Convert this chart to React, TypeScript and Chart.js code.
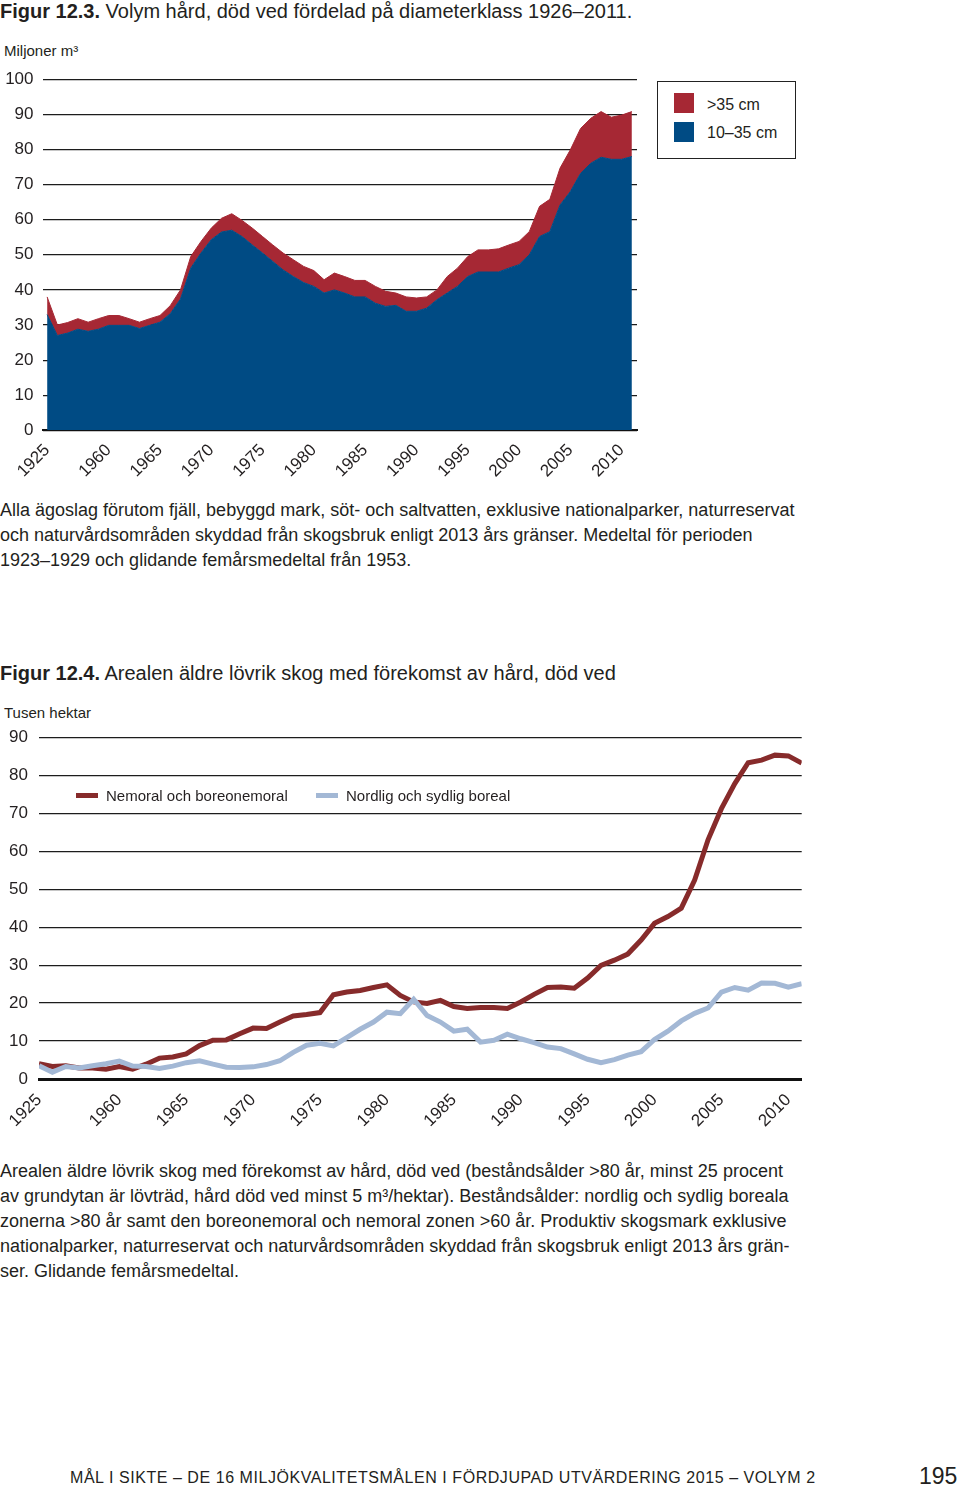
import React, { useEffect, useRef } from 'react';
import { Chart, registerables } from 'chart.js';

Chart.register(...registerables);

// ---------- DATA ----------
const years = [
  '1925',
  '1955', '1956', '1957', '1958', '1959', '1960', '1961', '1962', '1963', '1964',
  '1965', '1966', '1967', '1968', '1969', '1970', '1971', '1972', '1973', '1974',
  '1975', '1976', '1977', '1978', '1979', '1980', '1981', '1982', '1983', '1984',
  '1985', '1986', '1987', '1988', '1989', '1990', '1991', '1992', '1993', '1994',
  '1995', '1996', '1997', '1998', '1999', '2000', '2001', '2002', '2003', '2004',
  '2005', '2006', '2007', '2008', '2009', '2010', '2011',
];

const tickYears = ['1925', '1960', '1965', '1970', '1975', '1980', '1985', '1990', '1995', '2000', '2005', '2010'];

// Figur 12.3 – volym hård, död ved (miljoner m3)
const diam10to35 = [
  33, 27, 27.7, 28.8, 28.2, 28.8, 29.9, 29.9, 29.9, 29, 29.9,
  30.8, 33.2, 37.4, 46.2, 50.5, 54.3, 56.5, 57, 55.2, 52.8,
  50.5, 48.1, 45.7, 43.8, 42.1, 41, 39.1, 40, 39.1, 38,
  38, 36.2, 35.3, 35.6, 33.9, 33.9, 34.8, 37.2, 39.1, 41,
  43.8, 45.1, 45.1, 45.1, 46.2, 47.2, 50, 55.2, 56.6, 64.2,
  68, 73.2, 76.1, 77.8, 77.2, 77.2, 78,
];
const diamOver35 = [
  5, 3, 3, 3, 2.6, 3, 2.8, 2.8, 1.9, 1.8, 1.9,
  1.9, 2.3, 2.6, 3.3, 3.3, 3.3, 3.9, 4.7, 4.6, 4.8,
  4.7, 4.7, 4.8, 4.8, 4.6, 4.5, 3.8, 4.8, 4.7, 4.7,
  4.7, 4.8, 4.3, 3.5, 4.1, 3.8, 3.2, 2.8, 4.7, 5.2,
  5.7, 6.3, 6.3, 6.6, 6.6, 6.6, 6.6, 8.6, 9.2, 10.5,
  11.9, 12.8, 12.8, 13, 12, 12.6, 12.8,
];

// Figur 12.4 – areal (tusen hektar)
const nemoralBoreonemoral = [
  4.0, 3.3, 3.5, 2.9, 2.9, 2.6, 3.3, 2.6, 3.9, 5.5,
  5.8, 6.6, 8.8, 10.2, 10.3, 11.9, 13.4, 13.3, 15.0, 16.6,
  17.0, 17.5, 22.2, 22.9, 23.3, 24.1, 24.8, 22.0, 20.3, 19.9,
  20.7, 19.1, 18.6, 18.8, 18.8, 18.6, 20.3, 22.3, 24.1, 24.2,
  23.9, 26.6, 29.9, 31.3, 32.9, 36.6, 41.0, 42.8, 45.0, 52.4,
  63.0, 71.2, 77.8, 83.3, 84.0, 85.3, 85.1, 83.2,
];
const nordligSydligBoreal = [
  3.5, 1.8, 3.3, 2.9, 3.5, 4.0, 4.7, 3.4, 3.3, 2.8,
  3.4, 4.3, 4.8, 3.9, 3.1, 3.0, 3.2, 3.8, 4.8, 7.0,
  8.9, 9.4, 8.7, 10.9, 13.1, 15.0, 17.6, 17.2, 21.0, 16.7,
  15.0, 12.6, 13.1, 9.7, 10.2, 11.8, 10.6, 9.6, 8.4, 8.0,
  6.6, 5.2, 4.3, 5.1, 6.3, 7.2, 10.4, 12.6, 15.3, 17.3,
  18.7, 22.9, 24.1, 23.4, 25.3, 25.2, 24.2, 25.1,
];

const legendTop = ['>35 cm', '10–35 cm'];
const legendBottom = ['Nemoral och boreonemoral', 'Nordlig och sydlig boreal'];

// ---------- STYLE ----------
const FONT = '"Liberation Sans", Arial, Helvetica, sans-serif';
const INK = '#231f20';
const RED = '#a62834';
const BLUE = '#004b84';
const LINE_RED = '#872b2b';
const LINE_BLUE = '#a3b8d5';
const GRID = '#1c1c1c';

const pts = (values: number[]) => values.map((v, i) => ({ x: i, y: v }));

function xScale(min: number, max: number, height: number, borderWidth: number, padding: number) {
  return {
    type: 'linear' as const,
    min,
    max,
    afterBuildTicks: (scale: any) => {
      scale.ticks = tickYears.map((t) => ({ value: years.indexOf(t) }));
    },
    afterFit: (scale: any) => {
      scale.height = height;
    },
    grid: { display: false, drawTicks: false },
    border: { display: true, color: '#111', width: borderWidth },
    ticks: {
      autoSkip: false,
      maxRotation: 45,
      minRotation: 45,
      padding,
      color: INK,
      font: { family: FONT, size: 17 },
      callback: (v: any) => years[v] ?? '',
    },
  };
}

function yScale(max: number, width: number, padding: number, stacked: boolean) {
  return {
    type: 'linear' as const,
    min: 0,
    max,
    stacked,
    afterFit: (scale: any) => {
      scale.width = width;
    },
    grid: { color: GRID, lineWidth: 1.2, drawTicks: false },
    border: { display: false },
    ticks: {
      stepSize: 10,
      padding,
      color: INK,
      font: { family: FONT, size: 17 },
    },
  };
}

function TopChart() {
  const ref = useRef<HTMLCanvasElement>(null);
  useEffect(() => {
    const chart = new Chart(ref.current!, {
      type: 'line',
      data: {
        datasets: [
          {
            label: legendTop[1],
            data: pts(diam10to35),
            fill: 'origin',
            backgroundColor: BLUE,
            borderColor: BLUE,
            borderWidth: 1,
            pointRadius: 0,
            tension: 0,
          },
          {
            label: legendTop[0],
            data: pts(diamOver35),
            fill: '-1',
            backgroundColor: RED,
            borderColor: RED,
            borderWidth: 1,
            pointRadius: 0,
            tension: 0,
          },
        ],
      },
      options: {
        animation: false,
        responsive: false,
        maintainAspectRatio: false,
        layout: { padding: { top: 21.3, right: 13, left: 0, bottom: 0 } },
        plugins: { legend: { display: false }, tooltip: { enabled: false } },
        scales: {
          x: xScale(-0.45, 57.5, 59.7, 2, 10),
          y: yScale(100, 42.5, 9, true),
        },
      },
    });
    return () => chart.destroy();
  }, []);
  return (
    <canvas
      ref={ref}
      width={650}
      height={432}
      style={{ position: 'absolute', left: 0, top: 58, width: 650, height: 432 }}
    />
  );
}

function BottomChart() {
  const ref = useRef<HTMLCanvasElement>(null);
  useEffect(() => {
    const chart = new Chart(ref.current!, {
      type: 'line',
      data: {
        datasets: [
          {
            label: legendBottom[0],
            data: pts(nemoralBoreonemoral),
            borderColor: LINE_RED,
            borderWidth: 5,
            pointRadius: 0,
            tension: 0,
            fill: false,
            order: 1,
          },
          {
            label: legendBottom[1],
            data: pts(nordligSydligBoreal),
            borderColor: LINE_BLUE,
            borderWidth: 5,
            pointRadius: 0,
            tension: 0,
            fill: false,
            order: 0,
          },
        ],
      },
      options: {
        animation: false,
        responsive: false,
        maintainAspectRatio: false,
        layout: { padding: { top: 22.3, right: 18.3, left: 0, bottom: 0 } },
        plugins: { legend: { display: false }, tooltip: { enabled: false } },
        scales: {
          x: xScale(0, 57, 56, 3, 11),
          y: yScale(90, 39, 11, false),
        },
      },
    });
    return () => chart.destroy();
  }, []);
  return (
    <canvas
      ref={ref}
      width={820}
      height={420}
      style={{ position: 'absolute', left: 0, top: 715, width: 820, height: 420 }}
    />
  );
}

function Txt(props: { x: number; y: number; size: number; children: any; bold?: boolean; style?: any }) {
  const { x, y, size, children, bold, style } = props;
  return (
    <div
      style={{
        position: 'absolute',
        left: x,
        top: y - size * 0.62,
        fontSize: size,
        lineHeight: `${size * 1.2}px`,
        fontWeight: bold ? 700 : 400,
        whiteSpace: 'pre',
        color: INK,
        fontFamily: FONT,
        ...style,
      }}
    >
      {children}
    </div>
  );
}

function Para(props: { x: number; firstCenter: number; size: number; lh: number; lines: string[] }) {
  const { x, firstCenter, size, lh, lines } = props;
  const half = (lh - 1.117 * size) / 2;
  const top = firstCenter - (half + 0.905 * size - 0.3 * size);
  return (
    <div
      style={{
        position: 'absolute',
        left: x,
        top,
        fontSize: size,
        lineHeight: `${lh}px`,
        whiteSpace: 'pre',
        color: INK,
        fontFamily: FONT,
      }}
    >
      {lines.map((l, i) => (
        <div key={i}>{l}</div>
      ))}
    </div>
  );
}

export default function App() {
  return (
    <div
      style={{
        position: 'absolute',
        left: 0,
        top: 0,
        width: 960,
        height: 1486,
        overflow: 'hidden',
        background: '#fff',
        fontFamily: FONT,
        color: INK,
      }}
    >
      <Txt x={0} y={11} size={20}>
        <b>Figur 12.3.</b> Volym hård, död ved fördelad på diameterklass 1926–2011.
      </Txt>
      <Txt x={4} y={51} size={15}>
        Miljoner m³
      </Txt>
      <TopChart />
      {/* top legend */}
      <div
        style={{
          position: 'absolute',
          left: 657,
          top: 81,
          width: 137,
          height: 76,
          border: '1.5px solid #222',
        }}
      />
      <div style={{ position: 'absolute', left: 674, top: 93, width: 20, height: 20, background: RED }} />
      <div style={{ position: 'absolute', left: 674, top: 122, width: 20, height: 20, background: BLUE }} />
      <Txt x={707} y={105} size={16}>
        {legendTop[0]}
      </Txt>
      <Txt x={707} y={133} size={16}>
        {legendTop[1]}
      </Txt>

      <Para
        x={0}
        firstCenter={511}
        size={18}
        lh={25}
        lines={[
          'Alla ägoslag förutom fjäll, bebyggd mark, söt- och saltvatten, exklusive nationalparker, naturreservat',
          'och naturvårdsområden skyddad från skogsbruk enligt 2013 års gränser. Medeltal för perioden',
          '1923–1929 och glidande femårsmedeltal från 1953.',
        ]}
      />

      <Txt x={0} y={673} size={20}>
        <b>Figur 12.4.</b> Arealen äldre lövrik skog med förekomst av hård, död ved
      </Txt>
      <Txt x={4} y={713} size={15}>
        Tusen hektar
      </Txt>
      <BottomChart />
      {/* bottom legend */}
      <div style={{ position: 'absolute', left: 76, top: 792.5, width: 22, height: 5, background: LINE_RED }} />
      <Txt x={106} y={796} size={15}>
        {legendBottom[0]}
      </Txt>
      <div style={{ position: 'absolute', left: 316, top: 792.5, width: 22, height: 5, background: LINE_BLUE }} />
      <Txt x={346} y={796} size={15}>
        {legendBottom[1]}
      </Txt>

      <Para
        x={0}
        firstCenter={1172}
        size={18}
        lh={25}
        lines={[
          'Arealen äldre lövrik skog med förekomst av hård, död ved (beståndsålder >80 år, minst 25 procent',
          'av grundytan är lövträd, hård död ved minst 5 m³/hektar). Beståndsålder: nordlig och sydlig boreala',
          'zonerna >80 år samt den boreonemoral och nemoral zonen >60 år. Produktiv skogsmark exklusive',
          'nationalparker, naturreservat och naturvårdsområden skyddad från skogsbruk enligt 2013 års grän-',
          'ser. Glidande femårsmedeltal.',
        ]}
      />

      <Txt x={70} y={1478} size={16} style={{ letterSpacing: '0.55px' }}>
        MÅL I SIKTE – DE 16 MILJÖKVALITETSMÅLEN I FÖRDJUPAD UTVÄRDERING 2015 – VOLYM 2
      </Txt>
      <Txt x={919} y={1477} size={23}>
        195
      </Txt>
    </div>
  );
}
